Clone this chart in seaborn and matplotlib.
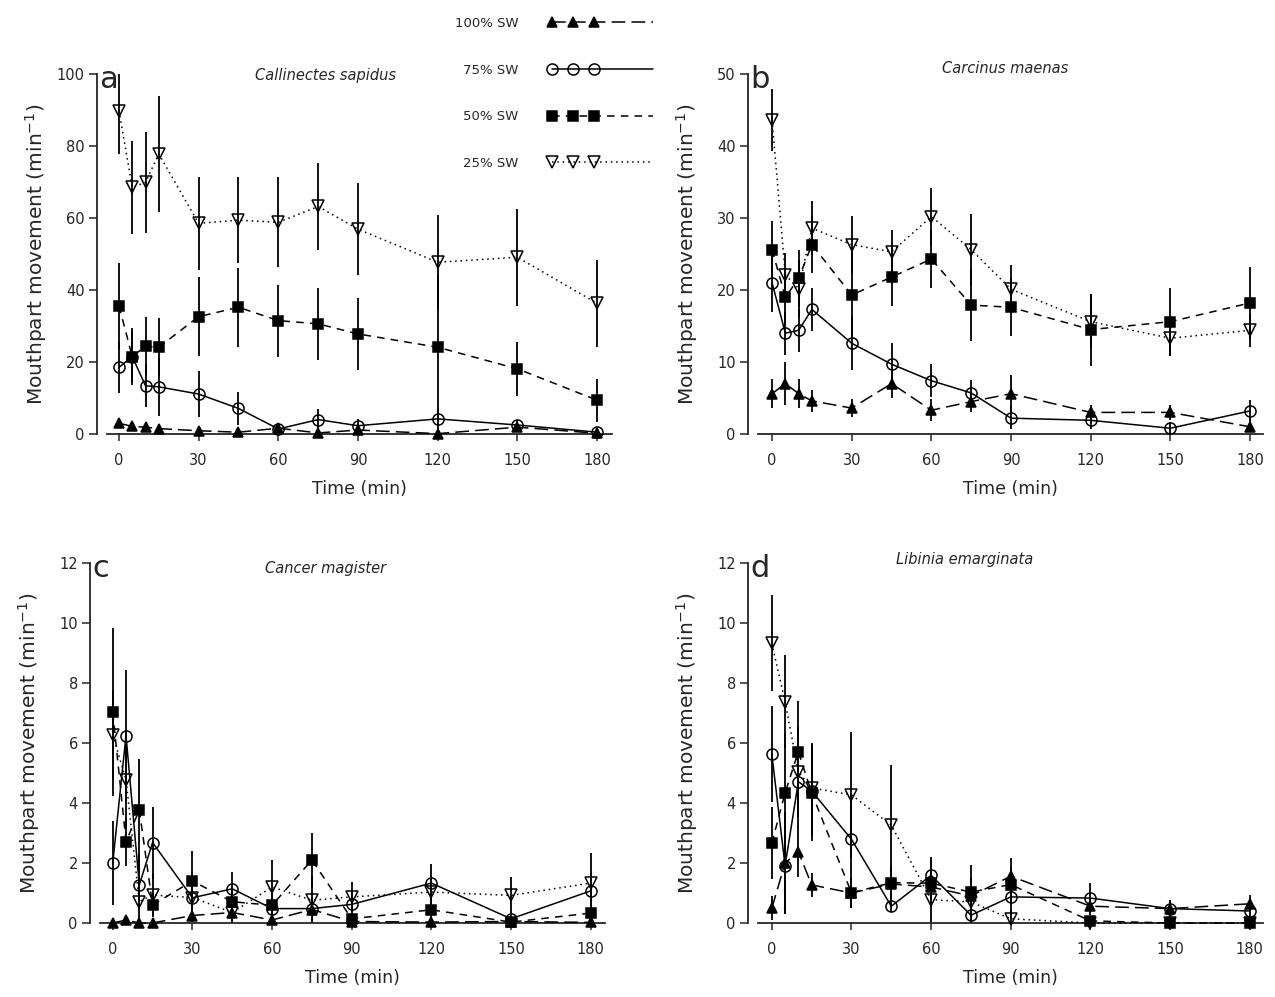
import numpy as np
import pandas as pd
import matplotlib
matplotlib.use("Agg")
import matplotlib.pyplot as plt
import seaborn as sns
from matplotlib.lines import Line2D
from matplotlib.legend_handler import HandlerLine2D

sns.set_style("ticks")
plt.rcParams['font.family'] = ['DejaVu Sans']

# ---------------- data ----------------
times = [0, 5, 10, 15, 30, 45, 60, 75, 90, 120, 150, 180]
treatments = ["100% SW", "75% SW", "50% SW", "25% SW"]
species = ["Callinectes sapidus", "Carcinus maenas", "Cancer magister", "Libinia emarginata"]
panel_letters = ["a", "b", "c", "d"]
xticks = [0, 30, 60, 90, 120, 150, 180]

# Panel a: Callinectes sapidus
a_100 = [3.0, 2.1, 1.9, 1.5, 0.9, 0.5, 1.6, 0.3, 1.1, 0.1, 1.9, 0.2]
a_100_se = [0.5, 0.4, 0.4, 0.4, 0.4, 0.3, 0.5, 0.3, 0.4, 0.2, 0.5, 0.2]
a_75 = [18.5, 21.5, 13.4, 13.1, 11.1, 7.1, 1.4, 4.0, 2.3, 4.2, 2.5, 0.5]
a_75_se = [7.0, 7.0, 6.0, 8.0, 6.5, 4.5, 1.5, 3.0, 2.0, 2.7, 1.5, 0.5]
a_50 = [35.6, 21.5, 24.4, 24.1, 32.6, 35.2, 31.5, 30.6, 27.8, 24.1, 18.1, 9.4]
a_50_se = [12.0, 8.0, 8.0, 8.0, 11.0, 11.0, 10.0, 10.0, 10.0, 20.0, 7.5, 6.0]
a_25 = [89.8, 68.5, 69.9, 77.8, 58.5, 59.4, 58.8, 63.2, 56.9, 47.7, 49.1, 36.3]
a_25_se = [12.0, 13.0, 14.0, 16.0, 13.0, 12.0, 12.5, 12.0, 12.7, 13.0, 13.5, 12.0]

# Panel b: Carcinus maenas
b_100 = [5.6, 7.0, 5.6, 4.6, 3.6, 7.0, 3.3, 4.5, 5.6, 3.0, 3.0, 1.0]
b_100_se = [2.0, 3.0, 2.0, 1.5, 1.2, 2.0, 1.5, 1.5, 2.6, 1.0, 1.0, 0.5]
b_75 = [21.0, 14.0, 14.4, 17.3, 12.6, 9.7, 7.4, 5.7, 2.2, 1.9, 0.8, 3.2]
b_75_se = [4.0, 3.0, 3.0, 3.0, 3.7, 3.0, 2.3, 1.8, 1.5, 1.2, 0.8, 1.5]
b_50 = [25.6, 19.0, 21.6, 26.3, 19.3, 21.8, 24.3, 17.9, 17.6, 14.5, 15.6, 18.2]
b_50_se = [4.0, 4.0, 4.0, 4.0, 6.0, 4.0, 4.0, 5.0, 4.0, 5.0, 4.7, 5.0]
b_25 = [43.6, 22.1, 20.2, 28.6, 26.3, 25.3, 30.2, 25.6, 20.1, 15.6, 13.3, 14.4]
b_25_se = [4.3, 3.0, 4.0, 3.7, 4.0, 3.0, 4.0, 5.0, 3.4, 3.7, 2.5, 2.3]

# Panel c: Cancer magister
c_100 = [0.0, 0.1, 0.0, 0.0, 0.25, 0.35, 0.1, 0.45, 0.05, 0.03, 0.05, 0.02]
c_100_se = [0.1, 0.15, 0.1, 0.1, 0.2, 0.3, 0.1, 0.3, 0.1, 0.1, 0.1, 0.1]
c_75 = [2.0, 6.25, 1.27, 2.68, 0.84, 1.14, 0.48, 0.48, 0.62, 1.33, 0.14, 1.07]
c_75_se = [1.4, 2.2, 0.8, 1.2, 0.5, 0.55, 0.4, 0.4, 0.4, 0.65, 0.2, 0.6]
c_50 = [7.04, 2.71, 3.77, 0.6, 1.4, 0.71, 0.59, 2.1, 0.14, 0.44, 0.03, 0.33]
c_50_se = [2.8, 0.8, 1.7, 0.4, 1.0, 0.5, 0.4, 0.9, 0.2, 0.4, 0.1, 0.3]
c_25 = [6.27, 4.77, 0.71, 0.93, 0.85, 0.35, 1.2, 0.76, 0.87, 1.03, 0.92, 1.33]
c_25_se = [1.5, 1.6, 1.6, 0.7, 0.6, 0.6, 0.9, 0.8, 0.5, 0.5, 0.6, 1.0]

# Panel d: Libinia emarginata
d_100 = [0.49, 2.0, 2.38, 1.27, 1.0, 1.3, 1.2, 0.9, 1.56, 0.56, 0.48, 0.64]
d_100_se = [0.4, 1.7, 0.85, 0.4, 0.5, 0.5, 0.5, 0.6, 0.6, 0.3, 0.3, 0.3]
d_75 = [5.63, 1.91, 4.71, 4.4, 2.79, 0.56, 1.59, 0.26, 0.87, 0.83, 0.48, 0.4]
d_75_se = [1.6, 1.6, 1.5, 1.5, 1.5, 0.2, 0.6, 0.5, 0.6, 0.5, 0.3, 0.3]
d_50 = [2.66, 4.34, 5.71, 4.34, 1.01, 1.34, 1.33, 1.03, 1.28, 0.07, 0.0, 0.0]
d_50_se = [1.2, 2.0, 1.7, 1.6, 0.5, 0.6, 0.8, 0.9, 0.6, 0.1, 0.05, 0.05]
d_25 = [9.32, 7.38, 5.04, 4.5, 4.27, 3.26, 0.78, 0.7, 0.14, 0.0, 0.0, 0.0]
d_25_se = [1.6, 1.55, 1.5, 1.5, 2.1, 2.0, 1.0, 0.8, 0.3, 0.05, 0.05, 0.05]

ymax = [100, 50, 12, 12]
ystep = [20, 10, 2, 2]

panels = [
    [(a_100, a_100_se), (a_75, a_75_se), (a_50, a_50_se), (a_25, a_25_se)],
    [(b_100, b_100_se), (b_75, b_75_se), (b_50, b_50_se), (b_25, b_25_se)],
    [(c_100, c_100_se), (c_75, c_75_se), (c_50, c_50_se), (c_25, c_25_se)],
    [(d_100, d_100_se), (d_75, d_75_se), (d_50, d_50_se), (d_25, d_25_se)],
]

# ---------------- styles ----------------
styles = {
    "100% SW": dict(marker="^", mfc="black", ls=(0, (9, 4)), ms=7),
    "75% SW": dict(marker="o", mfc="none", ls="-", ms=8),
    "50% SW": dict(marker="s", mfc="black", ls=(0, (5, 4)), ms=7.5),
    "25% SW": dict(marker="v", mfc="none", ls=(0, (1, 2.5)), ms=8),
}

W, H = 1275, 997
fig = plt.figure(figsize=(W / 100, H / 100), dpi=100)

# axes rectangles in pixels: left, top, right, bottom
rects = [(107, 74, 612, 434), (758, 74, 1263, 434),
         (100, 563, 605, 923), (758, 563, 1263, 923)]
xlims = [(-4.5, 185.6), (-5.3, 184.9), (-4.8, 185.4), (-5.2, 185.0)]
title_pos = [(0.432, 0.995), (0.489, 1.015), (0.446, 0.985), (0.41, 1.01)]

for i, (l, t, r, b) in enumerate(rects):
    ax = fig.add_axes([l / W, 1 - b / H, (r - l) / W, (b - t) / H])
    for name, (vals, se) in zip(treatments, panels[i]):
        st = styles[name]
        ax.errorbar(times, vals, yerr=se, fmt="none", ecolor="black",
                    elinewidth=1.3, capsize=0, zorder=1)
        df = pd.DataFrame({"time": times, "value": vals})
        sns.lineplot(data=df, x="time", y="value", ax=ax, color="black",
                     marker=st["marker"], markersize=st["ms"],
                     markerfacecolor=st["mfc"], markeredgecolor="black",
                     markeredgewidth=1.1, linestyle=st["ls"], linewidth=1.1,
                     zorder=3, clip_on=False)
    ax.set_xlim(*xlims[i])
    ax.set_ylim(0, ymax[i])
    ax.set_xticks(xticks)
    ax.set_yticks(np.arange(0, ymax[i] + 0.1, ystep[i]))
    sns.despine(ax=ax)
    ax.spines["left"].set_position(("outward", 7))
    for s in ("left", "bottom"):
        ax.spines[s].set_linewidth(1.3)
    ax.tick_params(axis="y", direction="out", length=6, width=1.1, labelsize=10.5, pad=3)
    ax.tick_params(axis="x", direction="out", length=5, width=1.1, labelsize=10.5, pad=9)
    ax.set_xlabel("Time (min)", fontsize=12.5, labelpad=8)
    ax.set_ylabel("Mouthpart movement (min$^{-1}$)", fontsize=14.5)
    ax.yaxis.set_label_coords(-0.115, 0.5)
    ax.text(-0.015, 0.96, panel_letters[i], transform=ax.transAxes,
            fontsize=22, ha="left", va="baseline")
    ax.text(title_pos[i][0], title_pos[i][1], species[i],
            transform=ax.transAxes, fontsize=10.5, style="italic",
            ha="center", va="center")


class LeftMarkers(HandlerLine2D):
    """Three markers on the left part of the handle, line continuing to the right."""
    def create_artists(self, legend, orig_handle, xdescent, ydescent,
                       width, height, fontsize, trans):
        x0 = -xdescent
        xdata = x0 + width * np.array([0.04, 0.24, 0.44, 1.0])
        ydata = np.full_like(xdata, (height - ydescent) / 2)
        legline = Line2D(xdata, ydata)
        self.update_prop(legline, orig_handle, legend)
        legline.set_markevery([0, 1, 2])
        legline.set_transform(trans)
        return [legline]


handles = []
for name in treatments:
    st = styles[name]
    handles.append(Line2D([], [], color="black", marker=st["marker"],
                          markersize=st["ms"], markerfacecolor=st["mfc"],
                          markeredgecolor="black", markeredgewidth=1.1,
                          linestyle=st["ls"], linewidth=1.1))

fig.legend(handles, treatments, handler_map={Line2D: LeftMarkers()},
           loc="upper left", bbox_to_anchor=(455 / W, 1 - 17 / H),
           frameon=False, markerfirst=False, fontsize=9.5,
           handlelength=8.0, handletextpad=2.2, labelspacing=2.55,
           borderpad=0, borderaxespad=0)

fig.savefig("out.png", dpi=100, facecolor="white")
